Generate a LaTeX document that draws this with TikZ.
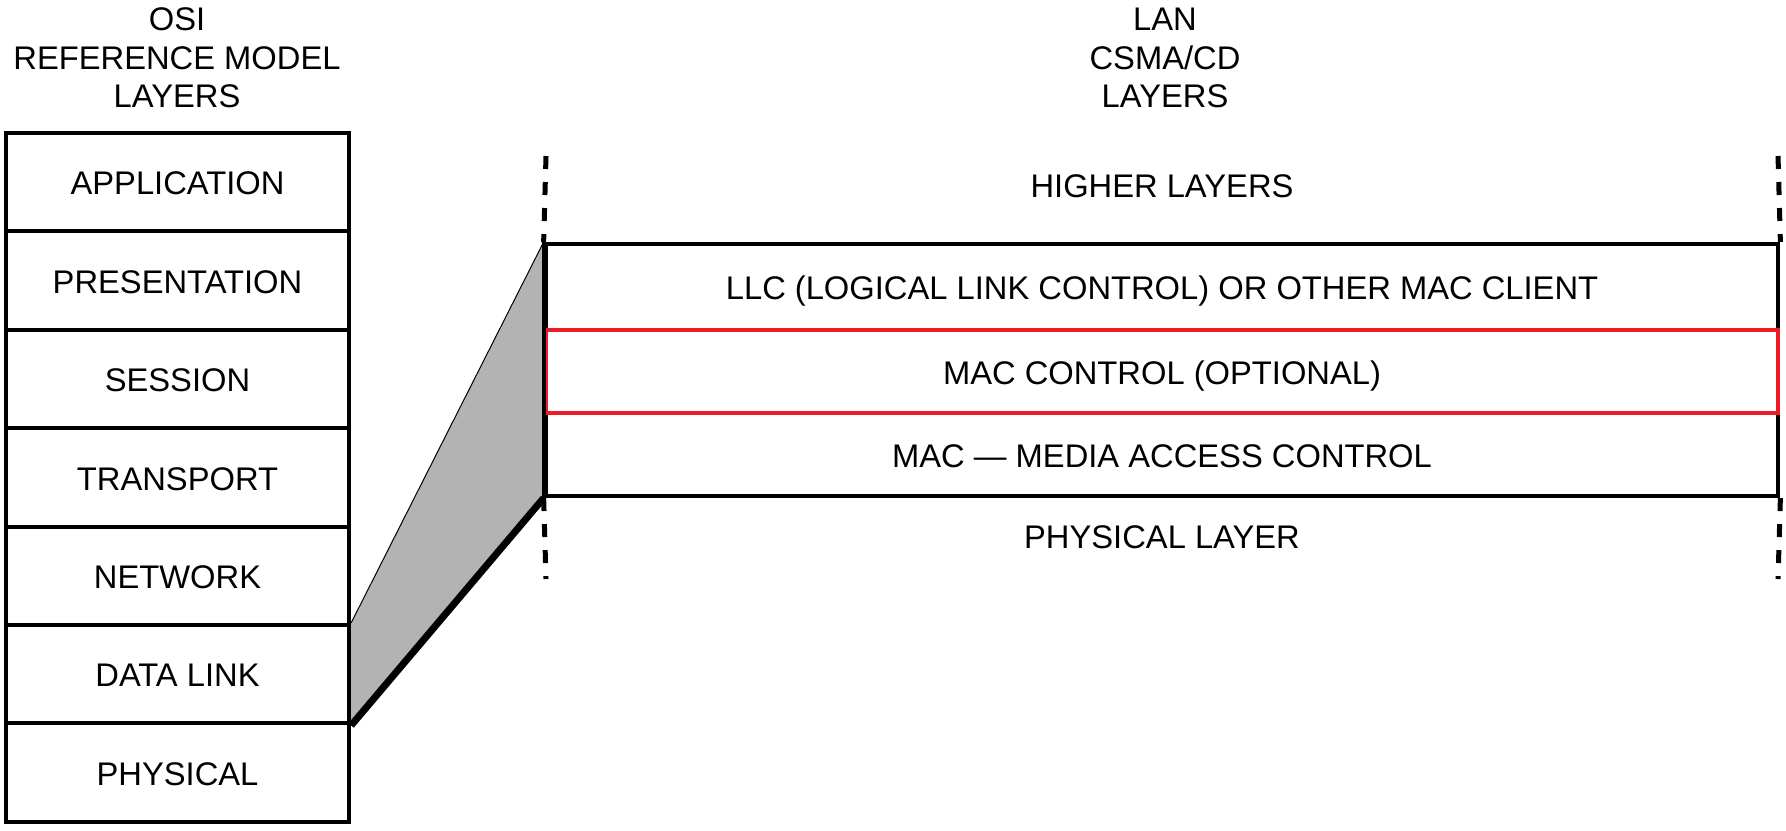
\documentclass[tikz,border=0pt]{standalone}
\usepackage{fontspec}
\setmainfont{Liberation Sans}
\usepackage{xcolor}
\usepackage{tikz}
\usetikzlibrary{positioning}

\definecolor{macred}{HTML}{ED1C24}
\definecolor{wedge}{HTML}{B3B3B3}

\begin{document}
\begin{tikzpicture}[
    x=0.01cm, y=-0.01cm,
    every node/.style={font=\fontsize{9.3}{10.9}\selectfont},
    txt/.style={text height=0.716em, text depth=0pt},
    layer/.style={rectangle, draw, txt, line width=0.04cm, minimum width=3.43cm, minimum height=0.984cm, inner sep=0},
    lanbox/.style={rectangle, draw, txt, line width=0.04cm, minimum width=12.32cm, inner sep=0},
    redbox/.style={lanbox, draw=macred},
    edge/.style={line width=0.05cm, dash pattern=on 0.13cm off 0.13cm},
    heading/.style={align=center, inner sep=0}
]
\useasboundingbox (0,0) rectangle (1786,830);

% Headings
\node[heading] (osi) at (177, 58) {OSI\\REFERENCE MODEL\\LAYERS};
\node[heading] (lan) at (1165, 58) {LAN\\CSMA/CD\\LAYERS};

% OSI stack
\node[layer] (app) at (177.5, 182.2) {APPLICATION};
\node[layer] (pres) at (177.5, 280.6) {PRESENTATION};
\node[layer] (sess) at (177.5, 379.0) {SESSION};
\node[layer] (trans) at (177.5, 477.4) {TRANSPORT};
\node[layer] (net) at (177.5, 575.8) {NETWORK};
\node[layer] (dl) at (177.5, 674.2) {DATA LINK};
\node[layer] (phy) at (177.5, 772.6) {PHYSICAL};

% LAN layers
\node[lanbox, minimum height=0.86cm] (llc) at (1162, 287) {LLC (LOGICAL LINK CONTROL) OR OTHER MAC CLIENT};
\node[lanbox, minimum height=0.83cm] (mac) at (1162, 454.5) {MAC — MEDIA ACCESS CONTROL};
\node[redbox, minimum height=0.83cm] (macc) at (1162, 371.5) {MAC CONTROL (OPTIONAL)};

\node[txt] (higher) at (1162, 185) {HIGHER LAYERS};
\node[txt] (phys) at (1162, 536) {PHYSICAL LAYER};

% Edges above and below
\coordinate (ltop) at (546, 156);
\coordinate (lbot) at (546, 579);
\coordinate (rtop) at (1778, 156);
\coordinate (rbot) at (1778, 579);
\draw[edge] (ltop) -- (llc.north west);
\draw[edge] (mac.south west) -- (lbot);
\draw[edge] (rtop) -- (llc.north east);
\draw[edge] (mac.south east) -- (rbot);

% Data link expanded
\fill[wedge] (dl.north east) -- (llc.north west) -- (mac.south west) -- (dl.south east) -- cycle;
\draw[line width=0.01cm] (dl.north east) -- (llc.north west);
\draw[line width=0.07cm] (dl.south east) -- (mac.south west);
\draw[line width=0.04cm] (llc.north west) -- (mac.south west);

\end{tikzpicture}
\end{document}
